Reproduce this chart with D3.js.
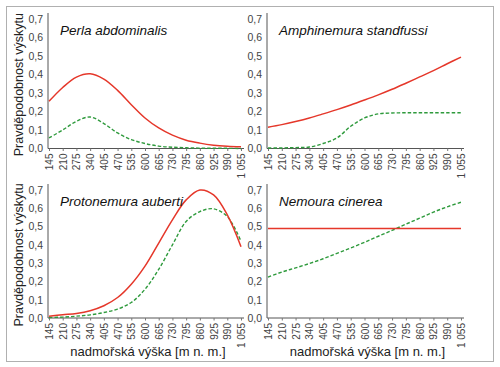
<!DOCTYPE html>
<html><head><meta charset="utf-8">
<script src="https://cdn.jsdelivr.net/npm/d3@7"></script>
<style>body{margin:0;background:#fff}svg{display:block}</style>
</head><body>
<script>
const altitudes = [145,210,275,340,405,470,535,600,665,730,795,860,925,990,1055];
const tickLabels = ["145","210","275","340","405","470","535","600","665","730","795","860","925","990","1 055"];
const yTicks = [0,0.1,0.2,0.3,0.4,0.5,0.6,0.7];
const species = ["Perla abdominalis","Amphinemura standfussi","Protonemura auberti","Nemoura cinerea"];
const perlaRed   = [0.255,0.33,0.386,0.404,0.375,0.314,0.237,0.165,0.111,0.072,0.045,0.029,0.018,0.012,0.009];
const perlaGreen = [0.057,0.10,0.147,0.17,0.135,0.084,0.048,0.027,0.013,0.007,0.004,0.002,0.001,0.001,0.0];
const amphiRed   = [0.115,0.129,0.146,0.165,0.187,0.21,0.235,0.262,0.29,0.32,0.353,0.387,0.421,0.458,0.494];
const amphiGreen = [0.003,0.003,0.005,0.008,0.027,0.057,0.12,0.165,0.187,0.192,0.193,0.193,0.193,0.193,0.193];
const protoRed   = [0.01,0.018,0.025,0.04,0.067,0.112,0.185,0.284,0.41,0.537,0.646,0.70,0.673,0.564,0.39];
const protoGreen = [0.003,0.005,0.01,0.017,0.03,0.049,0.085,0.157,0.266,0.40,0.528,0.582,0.597,0.555,0.42];
const nemoRed    = [0.49,0.49,0.49,0.49,0.49,0.49,0.49,0.49,0.49,0.49,0.49,0.49,0.49,0.49,0.49];
const nemoGreen  = [0.224,0.251,0.274,0.298,0.324,0.353,0.383,0.414,0.447,0.479,0.513,0.546,0.579,0.608,0.633];
const redSeries = [perlaRed, amphiRed, protoRed, nemoRed];
const greenSeries = [perlaGreen, amphiGreen, protoGreen, nemoGreen];
const yTitle = "Pravděpodobnost výskytu";
const xTitle = "nadmořská výška [m n. m.]";

const W=500,H=367;
const svg=d3.select("body").append("svg").attr("width",W).attr("height",H);
svg.append("rect").attr("x",6.5).attr("y",6.5).attr("width",487).attr("height",355)
  .attr("fill","#fff").attr("stroke","#b0b0b0").attr("stroke-width",1);

const panels=[
  {x0:49,x1:241,ax:48,y0:148.5,y1:19,row:0,col:0},
  {x0:268,x1:461,ax:267,y0:148.5,y1:19,row:0,col:1},
  {x0:49,x1:241,ax:48,y0:318,y1:190,row:1,col:0},
  {x0:268,x1:461,ax:267,y0:318,y1:190,row:1,col:1}
];
const font="Liberation Sans, Arial, Helvetica, sans-serif";
const fmt=d=>d.toFixed(1).replace(".",",");

panels.forEach((p,i)=>{
  const x=d3.scaleLinear().domain([145,1055]).range([p.x0,p.x1]);
  const y=d3.scaleLinear().domain([0,0.7]).range([p.y0,p.y1]);
  const g=svg.append("g");
  const ya=g.append("g").attr("transform",`translate(${p.ax},0)`)
    .call(d3.axisLeft(y).tickValues(yTicks).tickFormat(fmt).tickSize(0).tickPadding(5));
  ya.select(".domain").attr("d",`M0,${p.y1-6}V${p.y0}`).attr("stroke","#555");
  ya.selectAll("text").attr("font-family",font).attr("font-size",10.5).attr("fill","#444");
  const xa=g.append("g").attr("transform",`translate(0,${p.y0})`)
    .call(d3.axisBottom(x).tickValues(altitudes).tickFormat((d,j)=>tickLabels[j]).tickSizeInner(2.5).tickSizeOuter(0));
  xa.select(".domain").attr("d",`M${p.ax},0H${p.x1+3}`).attr("stroke","#555");
  xa.selectAll(".tick line").attr("stroke","#777");
  xa.selectAll("text").attr("font-family",font).attr("font-size",10).attr("fill","#444")
    .attr("transform","rotate(-90)").attr("text-anchor","end").attr("dy","0.35em").attr("x",-5).attr("y",0);
  const line=d3.line().x((d,j)=>x(altitudes[j])).y(d=>y(d)).curve(d3.curveCatmullRom.alpha(0.5));
  g.append("path").datum(greenSeries[i]).attr("d",line).attr("fill","none")
    .attr("stroke","#2e9a3c").attr("stroke-width",1.4).attr("stroke-dasharray","3.5,2");
  g.append("path").datum(redSeries[i]).attr("d",line).attr("fill","none")
    .attr("stroke","#e5372a").attr("stroke-width",1.5);
  g.append("text").attr("x",p.ax+12).attr("y",p.y1+16).text(species[i])
    .attr("font-family",font).attr("font-style","italic").attr("font-size",13.5).attr("fill","#111");
  if(p.col===0){
    g.append("text").attr("transform",`translate(23,${(p.y0+p.y1)/2+1}) rotate(-90)`)
      .attr("text-anchor","middle").text(yTitle).attr("font-family",font).attr("font-size",12.5).attr("fill","#222");
  }
  if(p.row===1){
    g.append("text").attr("x",(p.x0+p.x1)/2+3).attr("y",356).attr("text-anchor","middle").text(xTitle)
      .attr("font-family",font).attr("font-size",13).attr("fill","#222");
  }
});
</script>
</body></html>
